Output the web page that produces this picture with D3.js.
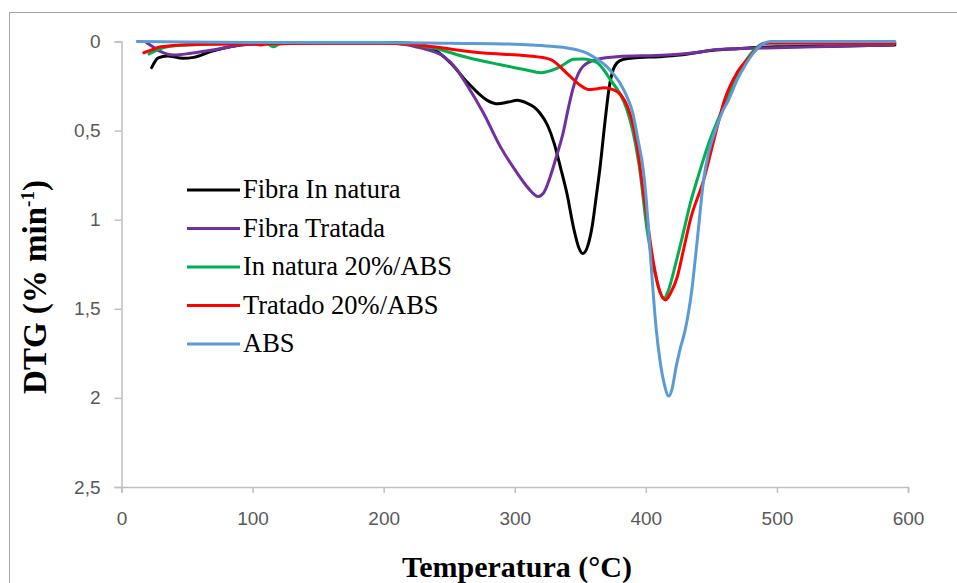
<!DOCTYPE html>
<html><head><meta charset="utf-8">
<script src="https://cdn.jsdelivr.net/npm/d3@7"></script>
<style>body{margin:0;background:#fff}svg{display:block}</style>
</head><body>
<svg id="c" width="957" height="583"></svg>
<script>
const xTicks = [0,100,200,300,400,500,600];
const yTicks = [0,0.5,1,1.5,2,2.5];
const yTickLabels = ["0","0,5","1","1,5","2","2,5"];
const seriesNames = ["Fibra In natura","Fibra Tratada","In natura 20%/ABS","Tratado 20%/ABS","ABS"];
const seriesColors = ["#000000","#7030a0","#00b050","#ff0000","#5b9bd5"];

const fibraInNatura = [[23,0.147],[28,0.092],[35,0.081],[47,0.094],[55,0.089],[68,0.057],[86,0.025],[98,0.014],[120,0.008],[160,0.005],[200,0.005],[220,0.01],[236,0.036],[251,0.12],[264,0.23],[279,0.33],[287,0.35],[295,0.34],[302,0.33],[309,0.345],[315,0.37],[319,0.40],[325,0.47],[330,0.57],[335,0.71],[340,0.86],[345,1.05],[349,1.16],[352,1.19],[356,1.14],[359,1.04],[362,0.88],[365,0.71],[369,0.44],[372,0.26],[375,0.16],[378,0.12],[383,0.10],[390,0.093],[410,0.085],[426,0.076],[450,0.05],[470,0.04],[500,0.03],[550,0.025],[590,0.02]];
const fibraTratada = [[19,0.005],[24,0.03],[30,0.057],[40,0.076],[53,0.066],[73,0.044],[91,0.02],[110,0.012],[150,0.008],[200,0.008],[215,0.015],[228,0.036],[246,0.085],[255,0.15],[264,0.25],[276,0.40],[289,0.59],[302,0.74],[310,0.82],[318,0.87],[322,0.85],[327,0.76],[332,0.64],[337,0.51],[341,0.37],[345,0.25],[352,0.14],[363,0.10],[378,0.085],[416,0.076],[441,0.059],[454,0.045],[492,0.036],[540,0.028],[589,0.02]];
const inNatura20 = [[21,0.07],[27,0.048],[35,0.03],[50,0.02],[80,0.012],[105,0.01],[112,0.015],[116,0.03],[120,0.015],[130,0.008],[200,0.008],[220,0.015],[238,0.036],[264,0.09],[289,0.13],[309,0.16],[320,0.175],[327,0.165],[335,0.14],[345,0.10],[352,0.098],[358,0.105],[363,0.12],[368,0.16],[373,0.215],[380,0.29],[385,0.37],[390,0.50],[395,0.70],[401,1.06],[407,1.30],[411,1.41],[414,1.44],[417,1.40],[423,1.24],[429,1.06],[434,0.905],[439,0.78],[444,0.66],[449,0.55],[455,0.44],[462,0.32],[470,0.19],[480,0.07],[489,0.012],[495,0.008],[540,0.01],[590,0.01]];
const tratado20 = [[17,0.063],[22,0.05],[30,0.03],[45,0.02],[70,0.015],[100,0.012],[106,0.02],[112,0.012],[150,0.01],[200,0.01],[220,0.015],[238,0.03],[276,0.065],[309,0.08],[327,0.10],[340,0.18],[350,0.245],[357,0.27],[363,0.265],[368,0.26],[375,0.27],[381,0.30],[386,0.365],[390,0.46],[393,0.57],[397,0.78],[401,1.0],[406,1.25],[411,1.41],[415,1.45],[419,1.41],[424,1.32],[429,1.16],[434,1.0],[444,0.78],[452,0.55],[460,0.33],[470,0.17],[480,0.08],[486,0.03],[490,0.01],[495,0.008],[540,0.01],[590,0.01]];
const abs = [[12,0.0],[50,0.003],[100,0.005],[200,0.005],[250,0.01],[300,0.015],[314,0.02],[330,0.028],[340,0.036],[348,0.048],[355,0.065],[363,0.1],[370,0.14],[375,0.18],[380,0.23],[385,0.30],[390,0.40],[394,0.55],[398,0.72],[400,0.86],[403,1.15],[405.5,1.40],[408,1.62],[411,1.80],[414,1.92],[417.5,1.99],[420,1.95],[423,1.83],[426,1.73],[430,1.62],[433,1.50],[435,1.40],[438,1.20],[440,1.06],[444,0.78],[448,0.62],[453,0.50],[458,0.40],[463,0.33],[470,0.21],[476,0.13],[482,0.065],[488,0.02],[495,0.0],[540,0.0],[590,0.0]];
const allSeries = [fibraInNatura, fibraTratada, inNatura20, tratado20, abs];

const svg = d3.select("#c");
const x = d3.scaleLinear().domain([0,600]).range([121.5,908]);
const y = d3.scaleLinear().domain([0,2.5]).range([41.5,487]);

// outer frame
svg.append("rect").attr("x",9.5).attr("y",12.5).attr("width",980).attr("height",620)
  .attr("fill","none").attr("stroke","#a6a6a6").attr("stroke-width",1);

const axisColor = "#bfbfbf";
const tickFont = "'Liberation Sans', Arial, sans-serif";

const gx = svg.append("g").attr("transform",`translate(0,${y(2.5)})`)
  .call(d3.axisBottom(x).tickValues(xTicks).tickSize(6).tickPadding(19).tickFormat(d3.format("d")));
const gy = svg.append("g").attr("transform",`translate(${x(0)},0)`)
  .call(d3.axisLeft(y).tickValues(yTicks).tickSize(7).tickPadding(14).tickFormat((d,i)=>yTickLabels[i]));
[gx,gy].forEach(g=>{
  g.selectAll("path,line").attr("stroke",axisColor).attr("stroke-width",1.5);
  g.selectAll("text").attr("fill","#595959").style("font-family",tickFont).style("font-size","19px");
});

const line = d3.line().x(d=>x(d[0])).y(d=>y(d[1])).curve(d3.curveMonotoneX);
allSeries.forEach((s,i)=>{
  svg.append("path").datum(s).attr("d",line).attr("fill","none")
    .attr("stroke",seriesColors[i]).attr("stroke-width",3).attr("stroke-linejoin","round").attr("stroke-linecap","round");
});

// legend
const lg = svg.append("g");
seriesNames.forEach((n,i)=>{
  const yy = 190 + i*38.5;
  lg.append("line").attr("x1",187).attr("x2",240).attr("y1",yy).attr("y2",yy)
    .attr("stroke",seriesColors[i]).attr("stroke-width",3);
  lg.append("text").attr("x",243).attr("y",yy+8).text(n)
    .style("font-family","'Liberation Serif','Times New Roman',serif").style("font-size","26.5px").attr("fill","#000");
});

// axis titles
svg.append("text").attr("x",517).attr("y",577).attr("text-anchor","middle")
  .style("font-family","'Liberation Serif','Times New Roman',serif").style("font-size","30px").style("font-weight","bold")
  .text("Temperatura (°C)");
const yt = svg.append("text").attr("transform","translate(46,287) rotate(-90)").attr("text-anchor","middle")
  .style("font-family","'Liberation Serif','Times New Roman',serif").style("font-size","33px").style("font-weight","bold");
yt.append("tspan").text("DTG (% min");
yt.append("tspan").attr("dy",-12).style("font-size","19px").text("-1");
yt.append("tspan").attr("dy",12).text(")");
</script>
</body></html>
